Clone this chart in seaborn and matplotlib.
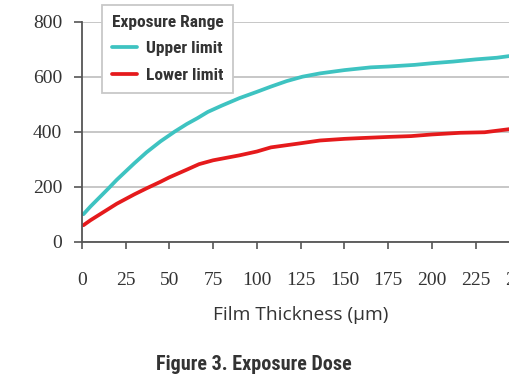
import numpy as np
import pandas as pd
import matplotlib
matplotlib.use("Agg")
import matplotlib.pyplot as plt
import seaborn as sns

# film thickness (um) and dose
upper_x = [1, 5, 10, 15, 20, 25, 30, 37, 45, 53, 60, 66, 72, 80, 90, 100, 108, 117,
           126, 136, 150, 165, 175, 190, 200, 212, 225, 237, 250]
upper_y = [100, 128, 160, 192, 225, 255, 285, 325, 365, 400, 428, 449, 472, 495, 522,
           545, 564, 584, 600, 612, 624, 634, 637, 643, 649, 655, 663, 669, 680]
lower_x = [1, 5, 10, 15, 20, 25, 30, 37, 45, 50, 60, 67, 75, 90, 100, 108, 125, 136,
           150, 160, 175, 188, 200, 216, 230, 245, 250]
lower_y = [60, 78, 98, 118, 138, 155, 172, 194, 218, 234, 262, 282, 296, 314, 328,
           343, 358, 368, 374, 377, 381, 384, 390, 396, 398, 410, 412]

series_names = ["Upper limit", "Lower limit"]
series_colors = ["#3ec3c1", "#e51a1c"]
x_ticks = [0, 25, 50, 75, 100, 125, 150, 175, 200, 225, 250]
y_ticks = [0, 200, 400, 600, 800]

df = pd.concat([
    pd.DataFrame({"thickness": upper_x, "dose": upper_y, "range": series_names[0]}),
    pd.DataFrame({"thickness": lower_x, "dose": lower_y, "range": series_names[1]}),
])

sns.set_theme(style="white")
cond = ["Roboto Condensed", "Roboto", "DejaVu Sans"]

fig = plt.figure(figsize=(5.1, 3.82), dpi=100)
ax = fig.add_axes([81.7 / 510, 1 - 241.7 / 382, 438 / 510, 220 / 382])

sns.lineplot(data=df, x="thickness", y="dose", hue="range", hue_order=series_names,
             palette=series_colors, estimator=None, linewidth=2.7, ax=ax)

ax.set_xlim(0, 250)
ax.set_ylim(0, 800)
ax.set_xticks(x_ticks)
ax.set_yticks(y_ticks)
ax.yaxis.grid(True, color="#bdbdbd", linewidth=1.2)
ax.xaxis.grid(False)
ax.set_axisbelow(True)
for s in ["top", "right"]:
    ax.spines[s].set_visible(False)
for s in ["left", "bottom"]:
    ax.spines[s].set_color("#555555")
    ax.spines[s].set_linewidth(1.3)

ax.tick_params(axis="y", length=6, width=1.2, color="#555555", pad=8,
               labelsize=14, labelcolor="#333333", left=True)
ax.tick_params(axis="x", length=5, width=1.2, color="#555555", pad=17,
               labelsize=14, labelcolor="#333333", bottom=True)
for lab in ax.get_xticklabels() + ax.get_yticklabels():
    lab.set_fontfamily("Liberation Serif")

ax.set_ylabel("")
ax.set_xlabel("Film Thickness (µm)", fontsize=13.8, color="#333333",
              fontfamily="Open Sans", labelpad=12)

leg = ax.legend(title="Exposure Range", loc="upper left",
                bbox_to_anchor=(102 / 510, 1 - 5 / 382), bbox_transform=fig.transFigure,
                borderaxespad=0, frameon=True, fancybox=False, framealpha=1,
                edgecolor="#c8c8c8", handlelength=1.45, handletextpad=0.55,
                labelspacing=0.67, borderpad=0.55,
                prop={"family": cond, "weight": "bold", "size": 12.5},
                title_fontproperties={"family": cond, "weight": "bold", "size": 12.5})
leg.get_frame().set_linewidth(1.3)
for t in leg.get_texts():
    t.set_color("#333333")
leg.get_title().set_color("#333333")

fig.text(254 / 510, 1 - 364 / 382, "Figure 3. Exposure Dose", ha="center", va="center",
         fontsize=14.5, fontweight="bold", color="#333333", family=cond)

fig.savefig("out.png", dpi=100)
